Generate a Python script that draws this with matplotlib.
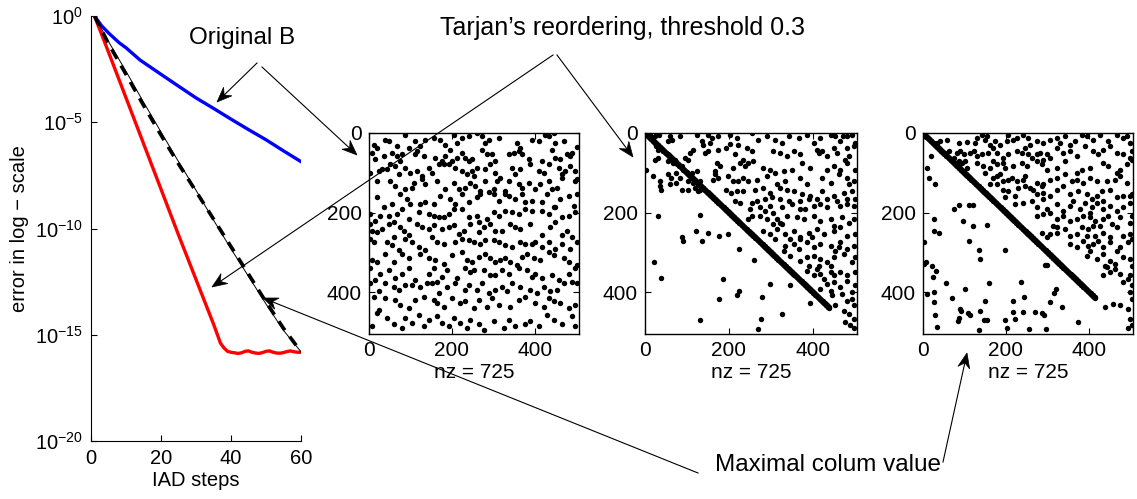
import numpy as np
import matplotlib
matplotlib.use('Agg')
import matplotlib.pyplot as plt
from matplotlib.patches import Polygon

plt.rcParams['font.family'] = ['Liberation Sans', 'DejaVu Sans']
plt.rcParams['mathtext.default'] = 'regular'
plt.rcParams['axes.unicode_minus'] = True

# ---------------- convergence data (IAD steps vs error) ----------------
steps_blue = [1, 3, 5, 8, 10, 14, 20, 25, 30, 35, 40, 45, 50, 55, 60]
err_blue = [1.0, 3.5e-1, 1.6e-1, 5.6e-2, 3.2e-2, 8.5e-3, 1.8e-3, 5.0e-4, 1.4e-4,
            4.5e-5, 1.4e-5, 4.5e-6, 1.5e-6, 4.5e-7, 1.4e-7]

steps_red = [1, 5, 10, 15, 20, 25, 30, 35, 37, 38, 39, 40, 41, 42, 43, 44, 45, 46, 47,
             48, 49, 50, 51, 52, 53, 54, 55, 56, 57, 58, 59, 60]
err_red = [1.0, 2.0e-2, 1.41e-4, 1.0e-6, 7.1e-9, 5.0e-11, 4.0e-13, 3.2e-15, 4.0e-16,
           2.4e-16, 1.66e-16, 1.5e-16, 1.41e-16, 1.32e-16, 1.41e-16, 1.66e-16, 1.74e-16,
           1.5e-16, 1.38e-16, 1.32e-16, 1.45e-16, 1.66e-16, 1.74e-16, 1.5e-16, 1.38e-16,
           1.35e-16, 1.45e-16, 1.62e-16, 1.74e-16, 1.58e-16, 1.5e-16, 1.5e-16]

steps_black = [1, 5, 10, 15, 20, 25, 30, 35, 40, 45, 50, 55, 60]
err_black_dashed = [1.0, 5.0e-2, 1.8e-3, 6.3e-5, 2.5e-6, 1.1e-7, 5.6e-9, 2.8e-10,
                    1.4e-11, 7.1e-13, 3.5e-14, 2.0e-15, 1.58e-16]
err_black_thin = [1.0, 6.3e-2, 2.5e-3, 8.9e-5, 3.5e-6, 1.4e-7, 6.3e-9, 2.5e-10,
                  1.1e-11, 5.6e-13, 2.8e-14, 1.6e-15, 1.58e-16]

x_ticks_left = [0, 20, 40, 60]
y_ticks_left = [1e0, 1e-5, 1e-10, 1e-15, 1e-20]

# ---------------- sparsity patterns (col, row) ----------------
n_size = 504
spy_ticks = [0, 200, 400]
nz_label = "nz = 725"

spy1_pts = [
 (12,29),(20,37),(38,17),(48,21),(68,33),(88,4),(96,37),(112,21),(124,33),(136,17),(156,12),(172,17),(184,29),(204,4),(212,25),(224,12),(240,8),(260,1),(272,8),(280,25),(288,17),(312,12),(356,25),(364,37),(392,17),(408,21),(424,4),(432,8),(444,1),(448,25),(468,21),(500,36),
 (8,50),(16,66),(36,58),(56,50),(68,58),(76,71),(80,54),(112,54),(116,46),(132,58),(160,62),(176,71),(184,58),(196,42),(200,71),(212,62),(224,50),(232,62),(240,71),(248,66),(272,42),(284,54),(296,54),(304,71),(336,54),(348,50),(360,46),(368,54),(384,66),(416,71),(440,42),(448,62),(460,66),(476,54),(484,58),(488,50),
 (4,100),(24,96),(32,91),(44,91),(52,79),(64,83),(72,104),(88,87),(100,100),(116,96),(128,108),(144,87),(152,100),(168,79),(180,79),(192,79),(208,87),(224,96),(236,104),(248,96),(252,108),(260,87),(280,91),(292,79),(304,100),(316,112),(344,87),(352,104),(364,91),(388,79),(408,96),(420,100),(432,79),(456,87),(464,104),(472,96),(484,83),(496,96),
 (20,120),(52,120),(64,133),(88,141),(104,137),(108,125),(128,116),(136,129),(164,120),(184,141),(204,125),(216,141),(232,137),(244,125),(256,133),(268,145),(280,120),(300,141),(308,120),(328,145),(336,120),(360,129),(368,137),(384,125),(400,141),(412,129),(432,120),(440,141),(452,137),(464,112),(496,120),(500,116),
 (20,162),(36,187),(56,178),(76,154),(92,166),(100,178),(124,178),(136,174),(156,178),(172,158),(196,166),(208,178),(224,154),(240,174),(260,162),(268,154),(288,149),(300,154),(312,170),(328,154),(336,158),(352,166),(368,154),(376,174),(392,170),(416,174),(428,154),(444,187),(460,166),(480,158),(492,183),(500,154),
 (4,203),(16,220),(28,208),(48,208),(60,224),(68,203),(80,191),(96,216),(120,199),(144,203),(156,208),(168,212),(180,212),(192,203),(204,191),(224,191),(240,212),(260,208),(264,224),(284,216),(300,199),(312,208),(328,195),(344,199),(360,203),(376,191),(392,195),(416,195),(432,203),(448,187),(464,212),(480,208),(496,199),
 (2,228),(8,245),(20,249),(32,241),(48,228),(60,261),(76,237),(84,245),(96,257),(116,228),(128,237),(144,241),(156,232),(176,241),(192,237),(204,232),(216,253),(228,245),(244,228),(264,249),(276,237),(292,228),(304,245),(320,245),(340,228),(352,237),(364,241),(388,228),(416,257),(436,237),(448,224),(464,257),(476,245),(488,261),
 (2,266),(12,274),(44,274),(56,282),(72,295),(88,266),(104,274),(120,286),(136,295),(152,261),(164,274),(180,278),(208,274),(224,266),(240,270),(252,274),(268,278),(280,270),(300,270),(312,274),(328,282),(344,286),(364,274),(376,278),(392,278),(400,274),(416,286),(432,274),(448,291),(464,278),(484,291),(500,274),
 (8,320),(20,324),(40,303),(60,324),(80,303),(96,315),(124,303),(144,315),(160,320),(180,328),(200,307),(224,299),(236,320),(248,324),(264,311),(280,303),(292,315),(304,324),(316,320),(328,315),(340,324),(356,332),(368,311),(380,303),(396,315),(412,320),(432,299),(444,307),(468,315),(480,324),(500,332),
 (4,340),(16,369),(28,353),(48,344),(64,365),(80,353),(96,340),(112,369),(144,353),(156,340),(164,374),(176,361),(188,344),(212,365),(232,340),(244,349),(252,344),(276,344),(292,357),(304,357),(320,344),(336,353),(360,340),(380,344),(392,361),(400,353),(416,365),(440,357),(456,369),(480,353),(496,340),
 (4,378),(24,398),(40,378),(60,386),(72,394),(88,382),(104,382),(124,386),(140,378),(152,378),(168,403),(188,386),(208,378),(232,394),(240,382),(260,394),(272,378),(288,403),(304,394),(320,386),(332,398),(344,378),(364,386),(388,394),(404,403),(420,386),(436,398),(452,394),(468,378),(488,374),(500,378),
 (12,411),(24,444),(40,415),(64,419),(76,432),(96,440),(112,419),(132,411),(156,419),(164,427),(180,436),(200,415),(220,427),(232,423),(252,440),(264,419),(284,436),(296,415),(312,432),(340,436),(360,419),(376,411),(400,427),(420,436),(432,415),(444,423),(460,427),(480,440),(496,432),
 (8,486),(20,452),(44,465),(60,481),(80,490),(88,465),(104,477),(120,457),(132,486),(144,469),(164,461),(176,477),(192,486),(204,465),(220,477),(236,490),(244,469),(264,481),(276,494),(300,473),(324,490),(336,469),(352,486),(376,481),(388,473),(408,486),(428,457),(444,469),(464,481),(488,461),(496,486),
]

spy2_diag_len = 440
spy2_pts = [
 (11,4),(23,8),(33,4),(59,8),(65,17),(83,7),(55,21),(123,4),(151,4),(159,12),(135,21),(139,29),(155,25),(175,7),(202,4),(218,12),(222,29),(202,27),(254,1),(270,17),(290,8),(310,17),(326,25),(344,8),(366,12),(386,4),(402,25),(418,12),(442,4),(453,8),(465,21),(481,8),(493,4),(472,7),(501,25),
 (27,33),(31,42),(43,46),(107,50),(115,42),(143,50),(151,46),(175,42),(194,37),(214,54),(242,37),(254,46),(306,46),(322,50),(338,58),(354,46),(370,54),(410,42),(414,50),(422,46),(434,58),(450,37),(457,50),(481,37),(485,58),(497,33),(477,67),(95,62),(103,67),(71,67),(23,67),(30,62),
 (55,71),(67,75),(91,92),(87,83),(171,75),(179,83),(210,87),(226,75),(234,67),(238,83),(246,75),(258,71),(282,87),(298,92),(310,100),(330,96),(350,92),(374,75),(394,87),(434,92),(450,83),(465,92),(481,75),(501,92),(167,96),(3,92),(111,100),(123,96),
 (19,108),(35,121),(55,104),(63,112),(75,100),(83,112),(103,121),(115,125),(131,121),(167,104),(175,112),(163,117),(198,108),(210,121),(222,121),(234,112),(246,121),(266,117),(290,108),(314,129),(334,121),(370,112),(386,129),(422,112),(442,125),(461,104),(481,112),(497,121),(485,129),(59,129),(87,142),(103,142),(119,137),(131,142),(139,137),(75,125),
 (35,133),(39,142),(127,146),(194,142),(206,150),(218,146),(234,146),(262,142),(282,137),(298,150),(322,137),(338,142),(354,146),(374,154),(394,158),(422,146),(450,158),(473,150),(493,146),(501,167),(266,171),(286,167),(302,162),(322,167),(342,171),(370,171),(390,167),(410,167),(434,167),(457,171),(481,167),
 (214,171),(226,175),(250,192),(274,187),(298,183),(326,187),(350,179),(370,192),(382,192),(402,183),(418,179),(434,187),(465,183),(481,179),(497,183),(286,196),(306,200),(254,175),
 (254,208),(274,208),(290,217),(314,217),(322,225),(338,208),(362,212),(378,217),(402,208),(418,221),(442,217),(469,212),(485,225),(497,217),(306,229),(326,229),(450,233),(246,217),
 (282,246),(298,254),(314,242),(334,254),(354,246),(370,262),(390,250),(410,242),(426,254),(450,246),(465,237),(481,258),(501,254),(310,267),(346,267),(370,267),(398,262),
 (334,283),(354,279),(366,292),(386,275),(402,287),(418,279),(442,283),(465,275),(461,287),(453,296),(481,292),(497,283),(330,296),
 (346,308),(370,321),(386,312),(402,308),(418,317),(434,325),(450,312),(473,304),(493,325),(501,312),(390,333),(414,333),(442,333),
 (386,346),(410,342),(418,354),(426,367),(450,358),(465,350),(481,358),(501,350),(402,358),(442,350),
 (434,379),(450,375),(465,387),(481,371),(501,383),(418,392),(442,396),(493,400),
 (446,408),(469,404),(481,421),(493,417),(497,433),(473,446),(485,454),(497,467),(477,475),(489,483),(497,491),(453,433),
 (31,208),(21,325),(39,365),(131,207),(121,247),(135,271),(151,252),(177,260),(198,253),(87,262),(91,272),(225,292),(260,318),(218,407),(225,396),(186,367),(177,417),(131,471),(278,413),(298,379),(277,467),(268,493),(326,455),(346,381),(394,427),
]

spy3_diag_len = 415
spy3_pts = [
 (34,25),(42,21),(58,18),(86,25),(106,23),(126,25),(130,12),(142,4),(150,17),(155,7),(162,29),(174,21),(186,29),(202,21),(206,4),(218,17),(226,12),(242,4),(254,12),(258,29),(274,21),(290,25),(306,17),(322,12),(330,25),(342,8),(354,29),(366,21),(382,4),(394,8),(410,17),(426,4),(446,21),(466,4),(482,12),(498,25),(490,8),
 (54,50),(62,46),(74,62),(82,50),(90,46),(98,54),(114,50),(122,46),(130,58),(142,54),(158,50),(170,37),(178,50),(194,62),(206,54),(226,46),(238,50),(246,37),(254,54),(262,62),(274,54),(282,50),(290,67),(298,54),(306,62),(322,37),(338,50),(354,46),(370,58),(390,33),(410,46),(422,54),(434,42),(450,33),(466,50),(482,54),(498,62),(503,46),
 (86,71),(94,75),(102,71),(130,75),(146,83),(162,87),(170,71),(178,79),(194,75),(198,87),(218,83),(238,75),(250,83),(274,71),(286,79),(298,92),(322,87),(342,71),(370,100),(382,92),(402,87),(434,75),(446,83),(466,100),(474,92),(490,79),(502,67),(106,87),(150,100),
 (170,112),(178,108),(186,104),(194,121),(206,117),(214,112),(226,121),(242,117),(246,108),(230,137),(274,125),(290,129),(306,117),(322,112),(342,104),(358,121),(370,117),(386,125),(402,112),(418,121),(442,121),(462,117),(474,108),(490,125),(162,129),(178,129),
 (194,142),(206,146),(222,158),(246,133),(258,137),(266,142),(274,154),(290,150),(306,158),(322,142),(338,133),(354,154),(374,146),(394,154),(406,167),(418,158),(430,146),(450,142),(466,162),(482,158),(498,158),(503,154),(286,133),(198,162),
 (222,179),(242,175),(262,171),(274,187),(290,167),(298,192),(322,179),(338,196),(354,183),(362,171),(378,192),(390,175),(406,187),(418,175),(434,171),(450,183),(466,196),(482,187),(498,175),(434,192),(402,200),
 (274,208),(290,204),(306,200),(322,217),(338,208),(354,221),(370,217),(386,208),(402,212),(414,221),(434,217),(446,208),(454,229),(474,212),(498,225),(502,208),(314,233),(410,233),(426,233),
 (286,250),(298,262),(306,254),(322,250),(342,242),(354,258),(370,254),(382,237),(398,242),(414,258),(434,250),(450,262),(466,237),(482,258),(498,254),(322,237),(394,258),
 (354,279),(370,287),(386,271),(398,283),(410,279),(422,271),(434,287),(450,275),(474,287),(494,275),(504,267),(466,296),(402,296),
 (394,308),(418,317),(434,304),(450,321),(462,329),(482,312),(498,317),(504,333),(438,333),
 (442,337),(450,350),(462,342),(474,354),(494,367),(498,358),(482,375),(504,383),(434,358),
 (498,400),(504,417),(494,442),(498,467),(504,483),(494,491),(474,433),(437,438),(457,430),
 (19,57),(10,87),(14,112),(30,129),(26,217),(28,246),(38,250),(2,275),(2,329),(8,323),(22,333),(24,362),(31,346),(11,404),(26,400),(27,425),(29,458),(34,487),(55,377),(70,415),(75,190),(88,181),(110,182),(120,182),(96,221),(120,233),(112,271),(154,232),(136,294),(138,317),(160,377),(149,422),(102,392),(90,442),(93,448),(86,464),(84,472),(109,453),(114,458),(137,447),(147,470),(155,470),(134,496),(198,293),(197,470),(202,491),(216,450),(222,468),(218,421),(237,374),(243,411),(242,450),(256,492),(270,450),(286,451),(291,458),(306,424),(296,493),(315,401),(319,392),(334,436),(374,476),(293,331),(298,332),
]


def build_matrix(pts, diag_len):
    m = np.zeros((n_size, n_size))
    for c, r in pts:
        m[min(r, n_size - 1), min(c, n_size - 1)] = 1
    for i in range(diag_len):
        m[i, i] = 1
    return m


W, H = 1137, 499
fig = plt.figure(figsize=(W / 100, H / 100), dpi=100)


def px_axes(l, t, r, b):
    return fig.add_axes([l / W, (H - b) / H, (r - l) / W, (b - t) / H])


# ---------------- left convergence plot ----------------
ax = px_axes(91, 16, 301, 441)
ax.semilogy(steps_blue, err_blue, color='#0000ff', lw=2.4, solid_joinstyle='round')
ax.semilogy(steps_red, err_red, color='#ff0000', lw=2.4, solid_joinstyle='round')
ax.semilogy(steps_black, err_black_dashed, color='k', lw=2.6, linestyle=(0, (3.0, 2.2)))
ax.semilogy(steps_black, err_black_thin, color='k', lw=0.7)
ax.set_xlim(0, 60)
ax.set_ylim(1e-20, 1e0)
ax.set_xticks(x_ticks_left)
ax.set_yticks(y_ticks_left)
ax.yaxis.set_minor_locator(matplotlib.ticker.NullLocator())
ax.spines['top'].set_visible(False)
ax.spines['right'].set_visible(False)
ax.tick_params(direction='in', length=4, width=0.8, labelsize=14.5, pad=6)
ax.set_xlabel('IAD steps', fontsize=14.5, labelpad=2)
ax.set_ylabel('error in log \u2212 scale', fontsize=14.5, labelpad=4)

# ---------------- spy plots ----------------
spy_boxes = [(368.7, 133, 579, 334), (645, 133, 857, 334), (922.7, 133, 1133, 334)]
mats = [build_matrix(spy1_pts, 0), build_matrix(spy2_pts, spy2_diag_len),
        build_matrix(spy3_pts, spy3_diag_len)]
for (l, t, r, b), m in zip(spy_boxes, mats):
    sa = px_axes(l, t, r, b)
    sa.spy(m, marker='o', markersize=3.9, color='k', markeredgewidth=0, aspect='auto')
    sa.set_xlim(0, n_size + 1)
    sa.set_ylim(n_size + 1, 0)
    sa.xaxis.set_ticks_position('bottom')
    sa.set_xticks(spy_ticks)
    sa.set_yticks(spy_ticks)
    sa.tick_params(direction='in', length=4, width=0.8, labelsize=15, pad=5,
                   top=True, right=True, labeltop=False)
    sa.set_xlabel(nz_label, fontsize=15, labelpad=2)
    sa.xaxis.set_label_position('bottom')
    for s in sa.spines.values():
        s.set_linewidth(1.0)

# ---------------- annotations ----------------
ov = fig.add_axes([0, 0, 1, 1], zorder=10)
ov.set_xlim(0, W)
ov.set_ylim(H, 0)
ov.axis('off')
ov.patch.set_alpha(0)

ov.text(242, 38, 'Original B', fontsize=17.5, ha='center', va='center')
ov.text(622, 28, 'Tarjan\u2019s reordering, threshold 0.3', fontsize=18, ha='center', va='center')
ov.text(828, 465, 'Maximal colum value', fontsize=17.5, ha='center', va='center')

arrows = [((257, 63), (217, 102)),
          ((262, 67), (357, 155)),
          ((553, 55), (212, 287)),
          ((557, 55), (633, 157)),
          ((698, 473), (263, 298)),
          ((943, 462), (967, 353))]
head_len, head_half, notch = 15.0, 6.0, 5.0
for (x0, y0), (x1, y1) in arrows:
    d = np.array([x1 - x0, y1 - y0], dtype=float)
    L = np.hypot(*d)
    u = d / L
    nrm = np.array([-u[1], u[0]])
    tip = np.array([x1, y1], dtype=float)
    back = tip - u * head_len
    notch_pt = tip - u * (head_len - notch)
    ov.plot([x0, notch_pt[0]], [y0, notch_pt[1]], color='k', lw=0.8)
    head = np.array([tip, back + nrm * head_half, notch_pt, back - nrm * head_half])
    ov.add_patch(Polygon(head, closed=True, facecolor='k', edgecolor='k', lw=0.5))

fig.savefig('out.png', dpi=100)
